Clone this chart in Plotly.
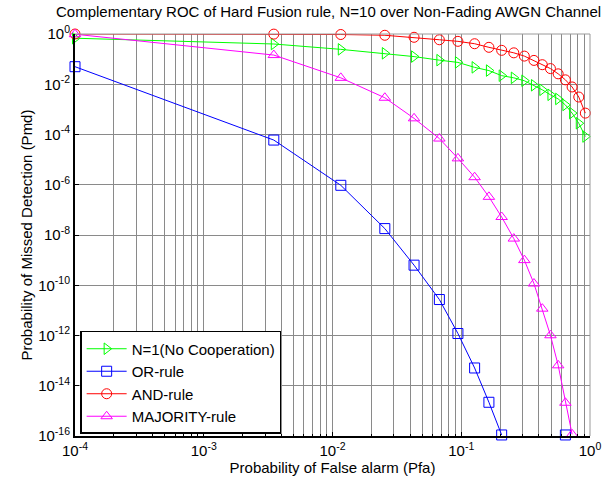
import plotly.graph_objects as go

# Probability of false alarm (x)
pfa = [1.0e-4, 3.5e-3, 1.16e-2, 2.55e-2, 4.30e-2, 6.76e-2, 9.42e-2, 0.127, 0.164, 0.206,
       0.256, 0.309, 0.367, 0.426, 0.493, 0.566, 0.644, 0.726, 0.818, 0.920]

# Probability of missed detection for each rule
pmd_n1 = [0.68, 0.40, 0.245, 0.17, 0.126, 0.091, 0.074, 0.047, 0.035, 0.022,
          0.018, 0.0138, 0.0091, 0.006, 0.0038, 0.0026, 0.0015, 7.1e-4, 2.8e-4, 8.3e-5]
pmd_or = [5.0e-2, 6.0e-5, 9.5e-7, 1.8e-8, 6.3e-10, 2.7e-11, 1.2e-12, 5.1e-14, 2.2e-15, 1.1e-16,
          None, None, None, None, None, None, 1.1e-16, None, None, None]
pmd_and = [1.0, 0.99, 0.955, 0.89, 0.74, 0.59, 0.51, 0.41, 0.295, 0.224,
           0.178, 0.132, 0.089, 0.060, 0.042, 0.026, 0.015, 7.8e-3, 3.1e-3, 7.1e-4]
pmd_maj = [0.98, 0.145, 0.018, 2.9e-3, 4.4e-4, 6.9e-5, 1.12e-5, 2.0e-6, 3.3e-7, 5.2e-8,
           7.2e-9, 1.0e-9, 1.17e-10, 1.17e-11, 1.02e-12, 6.5e-14, 2.1e-15, 1.17e-16, None, None]

series_names = ["N=1(No Cooperation)", "OR-rule", "AND-rule", "MAJORITY-rule"]
series_vals = [pmd_n1, pmd_or, pmd_and, pmd_maj]
series_colors = ["#00FF00", "#0000FF", "#FF0000", "#FF00FF"]
series_symbols = ["triangle-right-open", "square-open", "circle-open", "triangle-up-open"]

x_tickvals = [1e-4, 1e-3, 1e-2, 1e-1, 1e0]
x_ticktext = ["10<sup>-4</sup>", "10<sup>-3</sup>", "10<sup>-2</sup>", "10<sup>-1</sup>", "10<sup>0</sup>"]
y_tickvals = [1e0, 1e-2, 1e-4, 1e-6, 1e-8, 1e-10, 1e-12, 1e-14, 1e-16]
y_ticktext = ["10<sup>0</sup>", "10<sup>-2</sup>", "10<sup>-4</sup>", "10<sup>-6</sup>", "10<sup>-8</sup>",
              "10<sup>-10</sup>", "10<sup>-12</sup>", "10<sup>-14</sup>", "10<sup>-16</sup>"]

FONT = "Liberation Sans, Arial, sans-serif"
GRID = "#8a8a8a"
FS = 15

fig = go.Figure()
for name, vals, col, sym in zip(series_names, series_vals, series_colors, series_symbols):
    fig.add_trace(go.Scatter(
        x=pfa, y=vals, name=name, mode="lines+markers",
        line=dict(color=col, width=1),
        marker=dict(symbol=sym, size=10, color=col, line=dict(color=col, width=1)),
        connectgaps=False, cliponaxis=False,
    ))

fig.update_layout(
    width=613, height=487,
    margin=dict(l=75, r=20, t=34, b=51),
    paper_bgcolor="white", plot_bgcolor="white",
    font=dict(family=FONT, size=FS, color="black"),
    title=dict(text="Complementary ROC of Hard Fusion rule, N=10 over Non-Fading AWGN Channel",
               x=0.536, xanchor="center", y=1 - 12 / 487, yanchor="middle",
               font=dict(family=FONT, size=FS, color="black")),
    showlegend=True,
    legend=dict(x=0.01, y=0.005, xanchor="left", yanchor="bottom",
                bgcolor="white", bordercolor="black", borderwidth=1.5,
                font=dict(family=FONT, size=FS), tracegroupgap=0,
                itemwidth=40),
    shapes=[
        dict(type="line", xref="x domain", yref="y domain", x0=0, x1=1, y0=1, y1=1,
             line=dict(color="#9a9a9a", width=1), layer="above"),
        dict(type="line", xref="x domain", yref="y domain", x0=1, x1=1, y0=0, y1=1,
             line=dict(color="#9a9a9a", width=1), layer="above"),
    ],
)

fig.update_xaxes(
    type="log", range=[-4, 0],
    tickvals=x_tickvals, ticktext=x_ticktext,
    showline=True, linecolor="black", linewidth=2, mirror=False,
    ticks="inside", ticklen=4, tickcolor="black",
    showgrid=True, gridcolor=GRID, gridwidth=1,
    minor=dict(dtick="D1", showgrid=True, gridcolor=GRID, gridwidth=1,
               ticks="inside", ticklen=2, tickcolor="black"),
    zeroline=False,
    tickfont=dict(family=FONT, size=FS),
    title=dict(text="Probability of False alarm (Pfa)", font=dict(family=FONT, size=FS), standoff=4),
)
fig.update_yaxes(
    type="log", range=[-16, 0],
    tickvals=y_tickvals, ticktext=y_ticktext,
    showline=True, linecolor="black", linewidth=2, mirror=False,
    ticks="inside", ticklen=4, tickcolor="black",
    showgrid=True, gridcolor=GRID, gridwidth=1,
    zeroline=False,
    tickfont=dict(family=FONT, size=FS),
    title=dict(text="Probability of Missed Detection (Pmd)", font=dict(family=FONT, size=FS), standoff=2),
)

fig.write_html("out.html")
